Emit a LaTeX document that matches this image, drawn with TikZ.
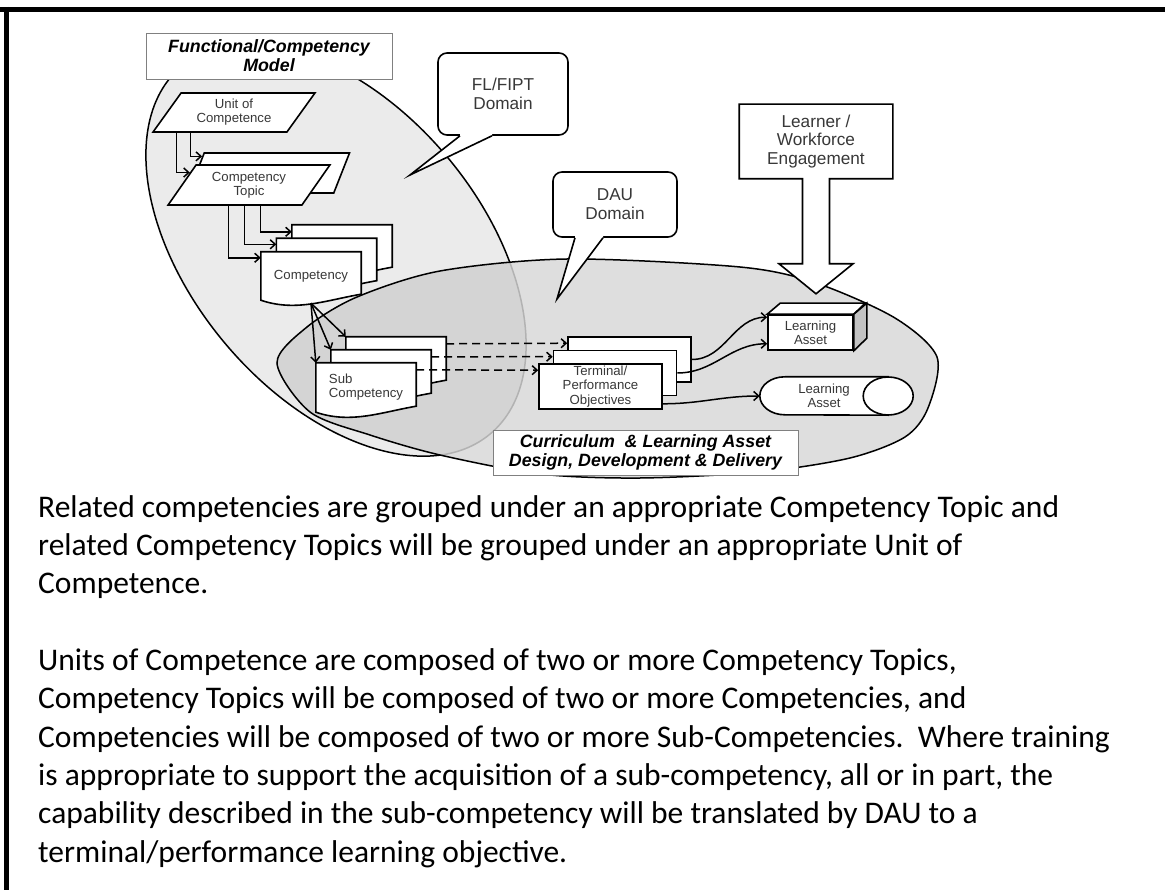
\documentclass[tikz,border=0pt]{standalone}
\usepackage{fontspec}
\setmainfont{Carlito}
\newfontfamily\arialfont{Liberation Sans}
\usetikzlibrary{arrows.meta,shapes.geometric,positioning,calc}
\pgfdeclarelayer{bg}
\pgfdeclarelayer{outline}
\pgfsetlayers{bg,outline,main}
\definecolor{fiptgray}{gray}{0.92}
\definecolor{daugray}{gray}{0.87}
\definecolor{bothgray}{gray}{0.83}
\definecolor{sidegray}{gray}{0.76}
\definecolor{textgray}{gray}{0.22}
\newcommand{\docoutline}[1]{\draw[docline] (#1.north west) -- (#1.north east) -- ([yshift=6pt]#1.south east) .. controls ([xshift=-35pt]#1.south east) and ([xshift=35pt,yshift=-12pt]#1.south west) .. (#1.south west) -- cycle;}

\begin{document}
\begin{tikzpicture}[x=1pt,y=-1pt,>={Straight Barb[length=5pt,width=9pt]},
    item/.style={font=\arialfont\fontsize{13.2}{14}\selectfont,text=textgray,align=center,inner sep=0pt},
    docbox/.style={item,minimum width=100pt,minimum height=48pt},
    docline/.style={draw,fill=white,line width=1.6pt},
    termbox/.style={item,draw,fill=white,line width=1.6pt,minimum width=123pt,minimum height=45pt,font=\arialfont\fontsize{13.2}{14.5}\selectfont},
    parabox/.style={item,trapezium,trapezium left angle=53,trapezium right angle=127,trapezium stretches=true,draw,fill=white,line width=1.6pt,minimum width=162pt,minimum height=40pt},
    callbox/.style={draw,fill=white,line width=1.6pt,rounded corners=9pt,font=\arialfont\fontsize{17.2}{18.8}\selectfont,text=textgray,align=center,inner sep=0pt},
    labelbox/.style={draw=gray,fill=white,line width=0.9pt,font=\arialfont\bfseries\itshape\fontsize{17.8}{18.8}\selectfont,align=center,inner sep=0pt},
    link/.style={->,line width=1.5pt},
    dashlink/.style={link,dash pattern=on 8pt off 5pt},
    note/.style={anchor=base west,align=left,inner sep=0pt,font=\fontsize{31.5}{38.3}\selectfont},
]
\useasboundingbox (0,0) rectangle (1165,890);
\draw[line width=5pt] (0,9.5) -- (1165,9.5);
\draw[line width=5pt] (6.5,7) -- (6.5,890);

\begin{pgfonlayer}{bg}
\path[save path=\fiptpath,rotate around={-50:(336,250)}] (336,250) ellipse[x radius=240,y radius=145];
\path[save path=\daupath] plot[smooth cycle] coordinates {(277,363) (307,327) (357,297) (440,271) (567,259) (740,267) (816,283) (895,318) (937,357) (928,408) (905,437) (850,458) (760,472) (640,478) (540,474) (440,455) (370,435) (310,412)};
\fill[fiptgray,use path=\fiptpath];
\draw[line width=1.5pt,use path=\fiptpath];
\fill[daugray,use path=\daupath];
\begin{scope}
\clip[use path=\fiptpath];
\fill[bothgray,use path=\daupath];
\end{scope}
\begin{scope}
\clip[use path=\daupath];
\draw[gray!60,line width=1.5pt,use path=\fiptpath];
\end{scope}
\draw[line width=1.5pt,use path=\daupath];
\end{pgfonlayer}

\node[labelbox,minimum width=246pt,minimum height=46pt] (fcm) at (269,56) {Functional/Competency\\Model};
\node[labelbox,minimum width=305pt,minimum height=45pt] (cldd) at (645.5,452.5) {Curriculum\ \ \& Learning Asset\\Design, Development \& Delivery};

\node[callbox,minimum width=130pt,minimum height=82pt] (fipt) at (503,94) {FL/FIPT\\Domain};
\coordinate (fipttip) at (410,175);
\fill[white] ([xshift=-43pt,yshift=2pt]fipt.south) -- ([xshift=-43pt]fipt.south) -- (fipttip) -- ([xshift=-11pt]fipt.south) -- ([xshift=-11pt,yshift=2pt]fipt.south) -- cycle;
\draw[line width=1.6pt] ([xshift=-43pt]fipt.south) -- (fipttip) -- ([xshift=-11pt]fipt.south);

\node[callbox,minimum width=124pt,minimum height=65pt] (dau) at (615,204.5) {DAU\\Domain};
\coordinate (dautip) at (557,299);
\fill[white] ([xshift=-40pt,yshift=2pt]dau.south) -- ([xshift=-40pt]dau.south) -- (dautip) -- ([xshift=-12pt]dau.south) -- ([xshift=-12pt,yshift=2pt]dau.south) -- cycle;
\draw[line width=1.6pt] ([xshift=-40pt]dau.south) -- (dautip) -- ([xshift=-12pt]dau.south);

\node[callbox,draw=none,fill=none,minimum width=152pt,minimum height=73pt] (learner) at (816,141.5) {Learner /\\Workforce\\Engagement};
\begin{pgfonlayer}{outline}
\draw[docline] (learner.north west) -- (learner.north east) -- (learner.south east) -- ([xshift=13.5pt]learner.south) -- ++(0,85) -- ++(23.5,0) -- ++(-37,30) -- ++(-37,-30) -- ++(23.5,0) -- ++(0,-85) -- (learner.south west) -- cycle;
\end{pgfonlayer}

\node[parabox,minimum height=39pt] (unit) at (234,112.5) {Unit of\\Competence};
\node[parabox] (topic2) at (269,173) {\phantom{Competency}};
\node[parabox] (topic1) at (249,185) {Competency\\Topic};

\node[docbox] (comp3) at (342,249) {};
\node[docbox] (comp2) at (326.5,262.5) {};
\node[docbox] (comp1) at (311,276) {Competency};

\node[docbox,minimum height=49pt] (sub3) at (396,361.5) {};
\node[docbox,minimum height=49pt] (sub2) at (381,374.5) {};
\node[docbox,minimum height=49pt,align=left] (sub1) at (366,387.5) {Sub\\Competency};

\node[item,minimum width=128pt,minimum height=38pt] (asset2) at (824,396) {Learning\\Asset};

\begin{pgfonlayer}{outline}
\docoutline{comp3}
\docoutline{comp2}
\docoutline{comp1}
\docoutline{sub3}
\docoutline{sub2}
\docoutline{sub1}
\draw[docline] (asset2.north east) -- ([xshift=25pt]asset2.north west) arc[start angle=270,end angle=90,x radius=25,y radius=19] -- (asset2.south east) -- cycle;
\draw[docline] (asset2.east) ellipse[x radius=25,y radius=19];
\end{pgfonlayer}

\node[termbox] (term3) at (629.5,359.5) {};
\node[termbox] (term2) at (615,373) {};
\node[termbox] (term1) at (600.5,386.5) {Terminal/\\Performance\\Objectives};

\node[item,draw,fill=white,line width=1.6pt,minimum width=85pt,minimum height=35pt] (asset1) at (810.5,332.5) {Learning\\Asset};
\draw[line width=1.6pt,fill=white] (asset1.north west) -- ++(13,-11) -- ++(85,0) -- (asset1.north east) -- cycle;
\draw[line width=1.6pt,fill=sidegray] (asset1.north east) -- ++(13,-11) -- ++(0,35) -- (asset1.south east) -- cycle;

\draw[link] ([xshift=25pt]unit.bottom left corner) |- ($(topic1.top left corner)!0.2!(topic1.bottom left corner)$);
\draw[link] ([xshift=39pt]unit.bottom left corner) |- ($(topic2.top left corner)!0.1!(topic2.bottom left corner)$);
\draw[link] ([xshift=62pt]topic1.bottom left corner) |- ([yshift=-6pt]comp1.north west);
\draw[link] ([xshift=78pt]topic1.bottom left corner) |- ([yshift=-6pt]comp2.north west);
\draw[link] ([xshift=94pt]topic1.bottom left corner) |- ([yshift=-7pt]comp3.north west);
\draw[link] ([yshift=-3pt]comp1.south) -- (sub1.north west);
\draw[link] ([yshift=-3pt]comp1.south) -- (sub2.north west);
\draw[link] ([yshift=-3pt]comp1.south) -- (sub3.north west);
\draw[dashlink] ([yshift=-7pt]sub1.north east) -- ([yshift=-7pt]term1.north west);
\draw[dashlink] ([yshift=-7pt]sub2.north east) -- ([yshift=-7pt]term2.north west);
\draw[dashlink] ([yshift=-7pt]sub3.north east) -- ([yshift=-7pt]term3.north west);
\draw[link] (term3.east) to[out=0,in=180] ([yshift=-3pt]asset1.north west);
\draw[link] (term2.east) to[out=0,in=180] ([yshift=7pt]asset1.south west);
\draw[link] ([yshift=6pt]term1.south east) to[out=0,in=180] (asset2.west);

\node[note] (para1) at (38,593.7) {Related competencies are grouped under an appropriate Competency Topic and\\related Competency Topics will be grouped under an appropriate Unit of\\Competence.};
\node[note] (para2) at (38,862) {Units of Competence are composed of two or more Competency Topics,\\Competency Topics will be composed of two or more Competencies, and\\Competencies will be composed of two or more Sub-Competencies.\ \ Where training\\is appropriate to support the acquisition of a sub-competency, all or in part, the\\capability described in the sub-competency will be translated by DAU to a\\terminal/performance learning objective.};
\end{tikzpicture}
\end{document}
